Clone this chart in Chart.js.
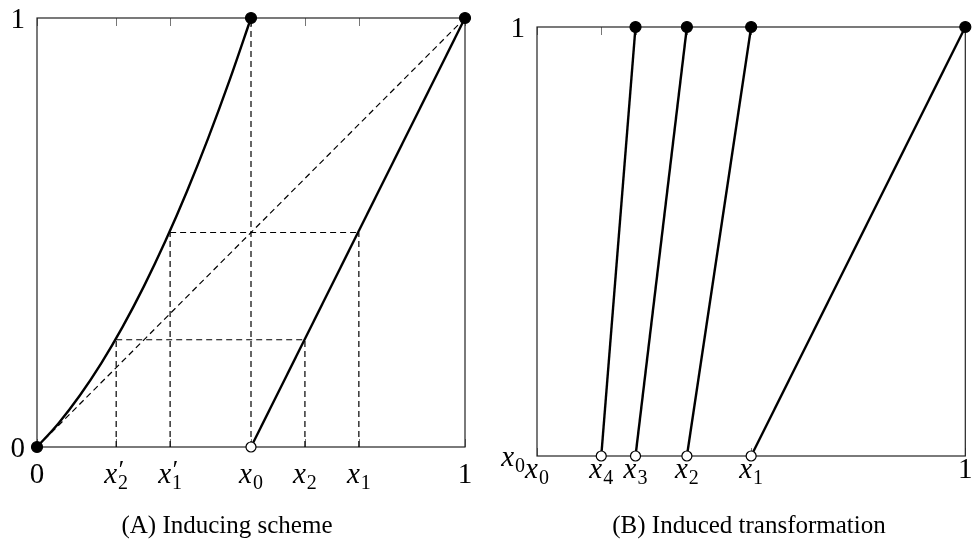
<!DOCTYPE html>
<html>
<head>
<meta charset="utf-8">
<script src="https://cdn.jsdelivr.net/npm/chart.js@4.4.1/dist/chart.umd.min.js"></script>
<style>
    body { margin: 0; background: #fff; }
    #wrap { position: relative; width: 972px; height: 545px; overflow: hidden; }
    canvas { position: absolute; top: 0; }
    .caption { position: absolute; top: 511px; font: 25px "Liberation Serif", serif; color: #000; white-space: nowrap; transform: translateX(-50%); }
</style>
</head>
<body>
<div id="wrap">
    <canvas id="leftChart" width="486" height="545" style="left:0"></canvas>
    <canvas id="rightChart" width="486" height="545" style="left:486px"></canvas>
    <div class="caption" style="left:227px">(A) Inducing scheme</div>
    <div class="caption" style="left:749px">(B) Induced transformation</div>
</div>
<script>
// panel A: inducing scheme
const leftTicks = [0, 0.185, 0.311, 0.5, 0.626, 0.752, 1];
const leftTickLabels = ['0', "x'_2", "x'_1", 'x_0', 'x_2', 'x_1', '1'];
const leftYTicks = [0, 1];
const leftYLabels = ['0', '1'];
const curveX = [0, 0.05, 0.1, 0.15, 0.2, 0.25, 0.3, 0.35, 0.4, 0.45, 0.5];
const curveY = [0, 0.055, 0.12, 0.195, 0.28, 0.375, 0.48, 0.595, 0.72, 0.855, 1];
const branchX = [0.5, 1];
const branchY = [0, 1];
const levels = [0.25, 0.5];
const levelLeft = [0.185, 0.311];
const levelRight = [0.626, 0.752];

// panel B: induced transformation
const rightTicks = [0, 0.15, 0.23, 0.35, 0.5, 1];
const rightTickLabels = ['x_0', 'x_4', 'x_3', 'x_2', 'x_1', '1'];
const rightYTicks = [0, 1];
const rightYLabels = ['x_0', '1'];
const lapStart = [0.15, 0.23, 0.35, 0.5];
const lapEnd = [0.23, 0.35, 0.5, 1];

const FONT = '"Liberation Serif", serif';

function seg(x1, y1, x2, y2, dashed) {
    return {
        data: [{x: x1, y: y1}, {x: x2, y: y2}],
        showLine: true,
        borderColor: '#000',
        borderWidth: dashed ? 1.2 : 2.4,
        borderDash: dashed ? [6, 4] : [],
        pointRadius: 0,
        clip: false,
        order: 2
    };
}

function dots(points, filled) {
    return {
        data: points,
        showLine: false,
        pointRadius: filled ? 5.5 : 5,
        pointBackgroundColor: filled ? '#000' : '#fff',
        pointBorderColor: '#000',
        pointBorderWidth: 1.2,
        clip: false,
        order: 0
    };
}

// draws '0', 'x_0', "x'_2" as small math text
function drawMath(ctx, label, x, baseline, align) {
    const big = 29, small = 20;
    let base = label, prime = false, sub = '';
    if (label.includes('_')) {
        const parts = label.split('_');
        base = parts[0];
        sub = parts[1];
    }
    if (base.includes("'")) {
        prime = true;
        base = base.replace("'", '');
    }
    const italic = /[a-z]/.test(base);
    ctx.font = (italic ? 'italic ' : '') + big + 'px ' + FONT;
    const wBase = ctx.measureText(base).width;
    ctx.font = small + 'px ' + FONT;
    const wSub = sub ? ctx.measureText(sub).width : 0;
    const total = wBase + wSub + (sub ? 1 : 0);
    let start = x - total / 2;
    if (align === 'right') start = x - total;
    ctx.fillStyle = '#000';
    ctx.textBaseline = 'alphabetic';
    ctx.textAlign = 'left';
    ctx.font = (italic ? 'italic ' : '') + big + 'px ' + FONT;
    ctx.fillText(base, start, baseline);
    if (prime) {
        ctx.font = 'italic 26px ' + FONT;
        ctx.fillText('\u2032', start + wBase, baseline - 5);
    }
    ctx.font = small + 'px ' + FONT;
    if (sub) ctx.fillText(sub, start + wBase + 1, baseline + 6);
}

const framePlugin = {
    id: 'frame',
    beforeDatasetsDraw(chart, args, opts) {
        const {ctx, chartArea: a, scales} = chart;
        ctx.save();
        ctx.strokeStyle = '#777';
        ctx.lineWidth = 1;
        opts.xTicks.forEach(v => {
            const px = Math.round(scales.x.getPixelForValue(v)) + 0.5;
            ctx.beginPath();
            ctx.moveTo(px, a.top); ctx.lineTo(px, a.top + 8);
            ctx.moveTo(px, a.bottom); ctx.lineTo(px, a.bottom - 8);
            ctx.stroke();
        });
        ctx.strokeStyle = '#222';
        ctx.lineWidth = 1.2;
        ctx.strokeRect(a.left, a.top, a.right - a.left, a.bottom - a.top);
        ctx.restore();
    },
    afterDraw(chart, args, opts) {
        const {ctx, scales} = chart;
        ctx.save();
        opts.xTicks.forEach((v, i) => {
            drawMath(ctx, opts.xLabels[i], scales.x.getPixelForValue(v), scales.y.bottom + opts.xGap, 'center');
        });
        opts.yTicks.forEach((v, i) => {
            drawMath(ctx, opts.yLabels[i], scales.x.left - 12, scales.y.getPixelForValue(v) + 10, 'right');
        });
        ctx.restore();
    }
};

function makePanel(id, datasets, padding, frame) {
    return new Chart(document.getElementById(id), {
        type: 'scatter',
        data: {datasets: datasets},
        options: {
            responsive: false,
            animation: false,
            events: [],
            layout: {padding: padding},
            scales: {
                x: {type: 'linear', min: 0, max: 1, display: false},
                y: {type: 'linear', min: 0, max: 1, display: false}
            },
            plugins: {
                legend: {display: false},
                tooltip: {enabled: false},
                frame: frame
            }
        },
        plugins: [framePlugin]
    });
}

// left panel datasets
const leftSets = [];
leftSets.push(dots([{x: 0, y: 0}, {x: 0.5, y: 1}, {x: 1, y: 1}], true));
leftSets.push(dots([{x: 0.5, y: 0}], false));
leftSets.push({
    data: curveX.map((x, i) => ({x: x, y: curveY[i]})),
    showLine: true,
    borderColor: '#000',
    borderWidth: 2.4,
    cubicInterpolationMode: 'monotone',
    pointRadius: 0,
    clip: false,
    order: 1
});
leftSets.push(seg(branchX[0], branchY[0], branchX[1], branchY[1], false));
leftSets.push(seg(0, 0, 1, 1, true));
leftSets.push(seg(0.5, 0, 0.5, 1, true));
levels.forEach((lv, i) => {
    leftSets.push(seg(levelLeft[i], 0, levelLeft[i], lv, true));
    leftSets.push(seg(levelRight[i], 0, levelRight[i], lv, true));
    leftSets.push(seg(levelLeft[i], lv, levelRight[i], lv, true));
});

makePanel('leftChart', leftSets, {left: 37, top: 18, right: 21, bottom: 98}, {
    xTicks: leftTicks, xLabels: leftTickLabels,
    yTicks: leftYTicks, yLabels: leftYLabels, xGap: 36
});

// right panel datasets
const rightSets = [];
rightSets.push(dots(lapEnd.map(x => ({x: x, y: 1})), true));
rightSets.push(dots(lapStart.map(x => ({x: x, y: 0})), false));
lapStart.forEach((x, i) => rightSets.push(seg(x, 0, lapEnd[i], 1, false)));

makePanel('rightChart', rightSets, {left: 51, top: 27, right: 6, bottom: 89}, {
    xTicks: rightTicks, xLabels: rightTickLabels,
    yTicks: rightYTicks, yLabels: rightYLabels, xGap: 22
});
</script>
</body>
</html>
